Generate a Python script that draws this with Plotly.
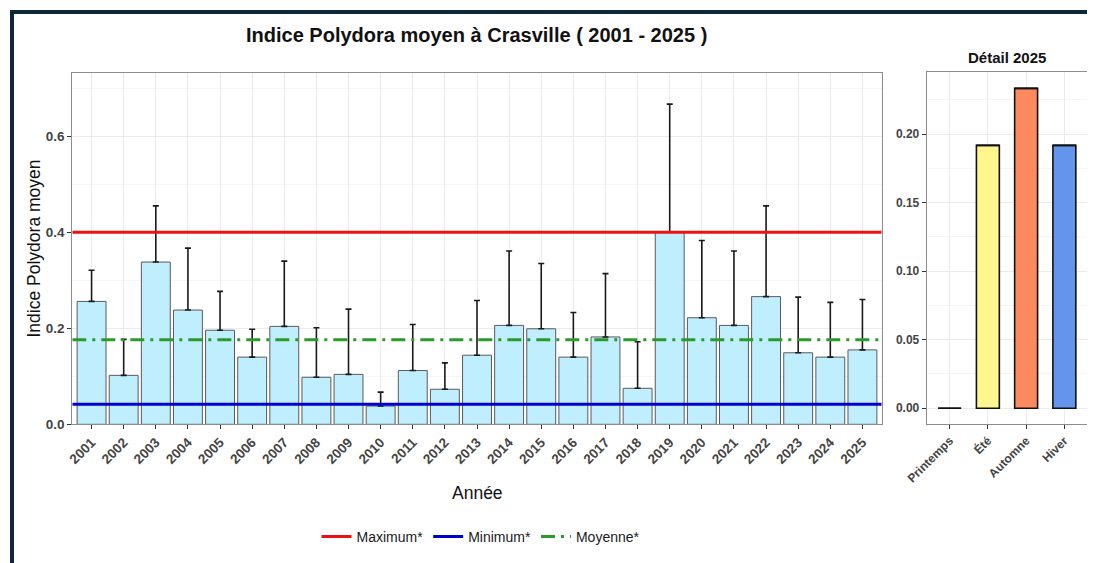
"""Indice Polydora moyen à Crasville, avec détail saisonnier 2025."""

import plotly.graph_objects as go

# --- données -------------------------------------------------------------
YEARS = [str(y) for y in range(2001, 2026)]
MEAN_INDEX = [
    0.256, 0.102, 0.338, 0.238, 0.196, 0.140, 0.204, 0.098, 0.104, 0.038,
    0.112, 0.073, 0.144, 0.206, 0.199, 0.140, 0.182, 0.075, 0.400, 0.222,
    0.206, 0.266, 0.149, 0.140, 0.155,
]
SD_UPPER = [
    0.065, 0.075, 0.117, 0.129, 0.081, 0.058, 0.136, 0.103, 0.136, 0.029,
    0.096, 0.055, 0.114, 0.155, 0.136, 0.093, 0.132, 0.097, 0.267, 0.161,
    0.155, 0.189, 0.116, 0.114, 0.105,
]
REF_MAX = 0.400
REF_MIN = 0.042
REF_MEAN = 0.176

SEASONS = ["Printemps", "Été", "Automne", "Hiver"]
SEASON_INDEX_2025 = [0.0, 0.1917, 0.2333, 0.1917]
SEASON_COLORS = ["#90EE90", "#FFF68F", "#FD8A5E", "#6495ED"]

# --- mise en page --------------------------------------------------------
# la page a une marge de 8 px : la figure est réduite d'autant et les
# positions (en pixels de la page) sont décalées
PAGE_W, PAGE_H = 1095, 563
OFF = 8
W, H = PAGE_W - OFF, PAGE_H - OFF


def px(x):
    return (x - OFF) / W


def py(y):
    return 1 - (y - OFF) / H


FONT = "Liberation Sans, Arial, sans-serif"
TICKFONT = {"family": FONT, "size": 13.5, "color": "#444444", "weight": "bold"}
FRAME = "#0f2838"

fig = go.Figure()

fig.add_trace(
    go.Bar(
        x=YEARS,
        y=MEAN_INDEX,
        width=0.9,
        marker={"color": "#BFEFFF", "line": {"color": "#5a5a5a", "width": 1}},
        error_y={
            "type": "data",
            "symmetric": False,
            "array": SD_UPPER,
            "arrayminus": [0] * len(SD_UPPER),
            "color": "#1a1a1a",
            "thickness": 1.6,
            "width": 3,
        },
        showlegend=False,
        xaxis="x",
        yaxis="y",
    )
)

ref_lines = [
    ("Maximum*", REF_MAX, {"color": "#EE1111", "width": 3}),
    ("Minimum*", REF_MIN, {"color": "#0000CD", "width": 3}),
    ("Moyenne*", REF_MEAN, {"color": "#2A9A2A", "width": 3, "dash": "14px,6px,3px,6px"}),
]
for name, val, line in ref_lines:
    fig.add_trace(
        go.Scatter(
            x=[0, 1],
            y=[val, val],
            mode="lines",
            name=name,
            line=line,
            xaxis="x3",
            yaxis="y",
        )
    )

# un "error bar" de longueur nulle trace le trait du printemps (valeur 0)
fig.add_trace(
    go.Bar(
        x=SEASONS,
        y=SEASON_INDEX_2025,
        width=0.6,
        marker={"color": SEASON_COLORS, "line": {"color": "#111111", "width": 1.6}},
        error_y={
            "type": "constant",
            "value": 0,
            "color": "#111111",
            "thickness": 1.6,
            "width": 11.5,
        },
        showlegend=False,
        xaxis="x2",
        yaxis="y2",
    )
)

axis_common = {
    "automargin": False,
    "showline": True,
    "mirror": True,
    "linecolor": "#8c8c8c",
    "linewidth": 1,
    "ticks": "outside",
    "ticklen": 4,
    "tickcolor": "#333333",
    "tickwidth": 1,
    "tickfont": TICKFONT,
    "gridcolor": "#EBEBEB",
    "gridwidth": 1,
    "zeroline": False,
}


def label(text, x, y, size, **kw):
    return {
        "text": text, "x": px(x), "y": py(y), "xref": "paper", "yref": "paper",
        "xanchor": "center", "yanchor": "middle", "showarrow": False,
        "font": {"size": size, "color": "#111111"}, **kw,
    }


fig.update_layout(
    width=W,
    height=H,
    margin={"l": 0, "r": 0, "t": 0, "b": 0, "autoexpand": False},
    paper_bgcolor="white",
    plot_bgcolor="white",
    font={"family": FONT, "color": "#1a1a1a"},
    xaxis={
        **axis_common,
        "domain": [px(72.3), px(881.7)],
        "type": "category",
        "range": [-0.6, 24.6],
        "tickangle": -45,
        "anchor": "y",
    },
    yaxis={
        **axis_common,
        "domain": [py(424.3), py(72.7)],
        "range": [0, 0.7325],
        "tick0": 0,
        "dtick": 0.2,
        "tickformat": ".1f",
        "minor": {"dtick": 0.1, "showgrid": True, "gridcolor": "#F5F5F5"},
        "anchor": "x",
    },
    xaxis3={
        "automargin": False,
        "domain": [px(72.3), px(881.7)],
        "range": [0, 1],
        "overlaying": "x",
        "visible": False,
        "anchor": "y",
    },
    xaxis2={
        **axis_common,
        "domain": [px(926.7), px(1087.3)],
        "type": "category",
        "range": [-0.6, 3.6],
        "tickangle": -45,
        "tickfont": {**TICKFONT, "size": 12},
        "anchor": "y2",
    },
    yaxis2={
        **axis_common,
        "domain": [py(424), py(72.3)],
        "range": [-0.0115, 0.245],
        "tick0": 0,
        "dtick": 0.05,
        "tickformat": ".2f",
        "tickfont": {**TICKFONT, "size": 12},
        "minor": {"dtick": 0.025, "showgrid": True, "gridcolor": "#F5F5F5"},
        "anchor": "x2",
    },
    legend={
        "orientation": "h",
        "x": px(481),
        "xanchor": "center",
        "y": py(537),
        "yanchor": "middle",
        "font": {"family": FONT, "size": 14, "color": "#1a1a1a"},
        "itemwidth": 30,
        "bgcolor": "rgba(0,0,0,0)",
    },
    annotations=[
        label("<b>Indice Polydora moyen à Crasville ( 2001 - 2025 )</b>", 476, 35, 20),
        label("<b>Détail 2025</b>", 1007, 57.5, 15),
        label("Indice Polydora moyen", 33, 248.5, 17.5, textangle=-90),
        label("Année", 477, 493, 17.5),
    ],
    shapes=[
        # cadre sombre autour de l'image
        {"type": "rect", "xref": "paper", "yref": "paper",
         "x0": px(10), "x1": px(1100), "y0": py(14), "y1": py(10),
         "fillcolor": FRAME, "line": {"width": 0}, "layer": "above"},
        {"type": "rect", "xref": "paper", "yref": "paper",
         "x0": px(10), "x1": px(14), "y0": py(570), "y1": py(10),
         "fillcolor": FRAME, "line": {"width": 0}, "layer": "above"},
    ],
)

fig.write_html("out.html")
